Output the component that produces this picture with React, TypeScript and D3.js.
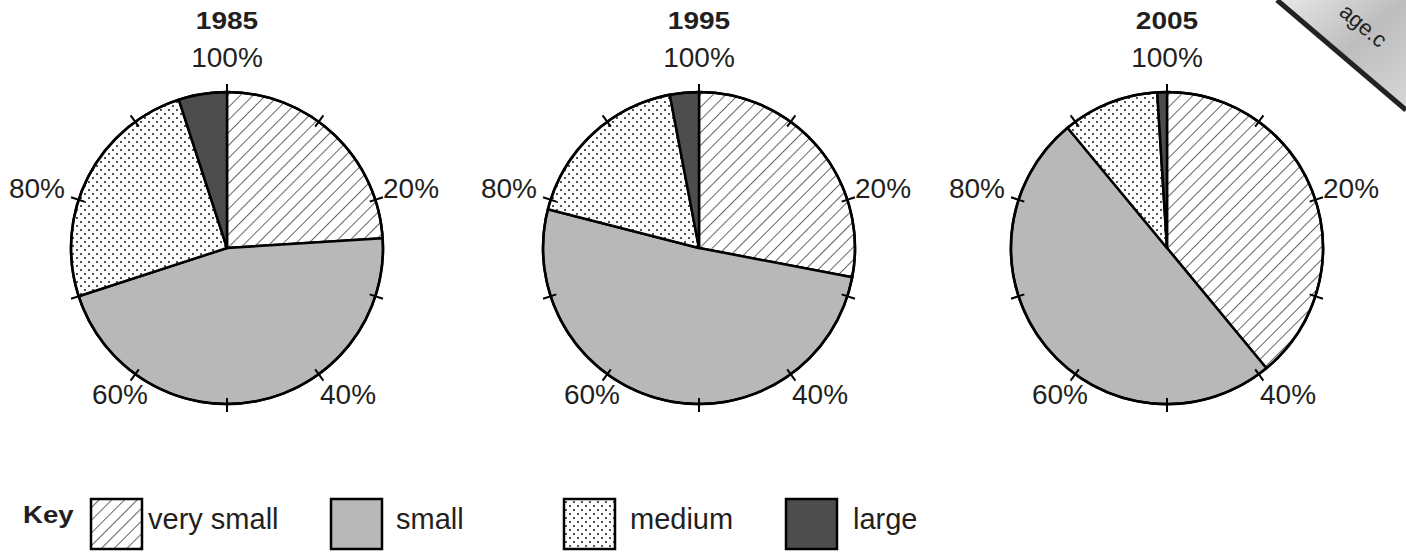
import React from "react";
import * as d3 from "d3";

const years = ["1985", "1995", "2005"];
const categories = ["very small", "small", "medium", "large"];
const values1985 = [24, 46, 25, 5];
const values1995 = [28, 51, 18, 3];
const values2005 = [39, 50, 10, 1];
const seriesValues = [values1985, values1995, values2005];
const tickLabels = ["20%", "40%", "60%", "80%", "100%"];
const tickPercents = [0, 10, 20, 30, 40, 50, 60, 70, 80, 90];

const W = 1406;
const H = 554;
const R = 156;
const CY = 248;
const centersX = [227, 699, 1167];
const TXT = "#231f20";
const fills = ["url(#hatch)", "#b8b8b8", "url(#dots)", "#4d4d4d"];

function StretchText({ x, y, scale, children, size, weight, anchor }: any) {
  return (
    <text
      transform={`translate(${x},${y}) scale(${scale},1)`}
      fontSize={size}
      fontWeight={weight}
      textAnchor={anchor}
      fill={TXT}
      fontFamily="'Liberation Sans', Arial, sans-serif"
    >
      {children}
    </text>
  );
}

export default function App() {
  const pie = d3
    .pie<number>()
    .sort(null)
    .value((d) => d)
    .startAngle(0)
    .endAngle(2 * Math.PI);
  const arc = d3.arc<d3.PieArcDatum<number>>().innerRadius(0).outerRadius(R);
  const angle = d3.scaleLinear().domain([0, 100]).range([0, 2 * Math.PI]);

  const labelPos: Record<string, { dx: number; dy: number; anchor: string }> = {
    "20%": { dx: 156, dy: -50, anchor: "start" },
    "40%": { dx: 93, dy: 156, anchor: "start" },
    "60%": { dx: -79, dy: 156, anchor: "end" },
    "80%": { dx: -162, dy: -50, anchor: "end" },
    "100%": { dx: 0, dy: -181, anchor: "middle" },
  };

  return (
    <svg width={W} height={H} style={{ position: "absolute", left: 0, top: 0, background: "#fff" }}>
      <defs>
        <pattern id="hatch" width="9" height="9" patternUnits="userSpaceOnUse" patternTransform="rotate(45)">
          <rect width="9" height="9" fill="#fff" />
          <line x1="0" y1="0" x2="0" y2="9" stroke="#000" strokeWidth="1.2" />
        </pattern>
        <pattern id="dots" width="8" height="8" patternUnits="userSpaceOnUse">
          <rect width="8" height="8" fill="#fff" />
          <circle cx="2" cy="2" r="0.9" fill="#000" />
          <circle cx="6" cy="6" r="0.9" fill="#000" />
        </pattern>
        <linearGradient id="wm" x1="0" y1="0" x2="1" y2="1">
          <stop offset="0" stopColor="#e8e8e8" />
          <stop offset="0.5" stopColor="#bdbdbd" />
          <stop offset="1" stopColor="#d8d8d8" />
        </linearGradient>
      </defs>

      {seriesValues.map((vals, i) => {
        const cx = centersX[i];
        const arcs = pie(vals);
        return (
          <g key={years[i]}>
            <StretchText x={cx} y={29} scale={1.22} size={23} weight="bold" anchor="middle">
              {years[i]}
            </StretchText>
            <g transform={`translate(${cx},${CY})`}>
              {arcs.map((a, j) => (
                <path key={categories[j]} d={arc(a) || ""} fill={fills[j]} stroke="#000" strokeWidth={2.5} strokeLinejoin="round" />
              ))}
              <circle r={R} fill="none" stroke="#000" strokeWidth={2.5} />
              {tickPercents.map((p) => {
                const t = angle(p);
                const s = Math.sin(t);
                const c = -Math.cos(t);
                return (
                  <line
                    key={p}
                    x1={s * (R - 6)}
                    y1={c * (R - 6)}
                    x2={s * (R + 8)}
                    y2={c * (R + 8)}
                    stroke="#000"
                    strokeWidth={2}
                  />
                );
              })}
              {tickLabels.map((lab) => {
                const lp = labelPos[lab];
                return (
                  <text
                    key={lab}
                    x={lp.dx}
                    y={lp.dy}
                    fontSize={28}
                    textAnchor={lp.anchor as any}
                    fill={TXT}
                    fontFamily="'Liberation Sans', Arial, sans-serif"
                  >
                    {lab}
                  </text>
                );
              })}
            </g>
          </g>
        );
      })}

      {/* Key */}
      <StretchText x={23} y={523} scale={1.2} size={23} weight="bold" anchor="start">
        Key
      </StretchText>
      {categories.map((cat, j) => {
        const bx = [91, 331, 564, 786][j];
        const tx = [148, 396, 630, 853][j];
        return (
          <g key={cat}>
            <rect x={bx} y={499} width={51} height={50} fill={fills[j]} stroke="#000" strokeWidth={2.5} />
            <text x={tx} y={529} fontSize={29} fill={TXT} fontFamily="'Liberation Sans', Arial, sans-serif">
              {cat}
            </text>
          </g>
        );
      })}

      {/* watermark corner */}
      <g>
        <polygon points="1277,0 1406,0 1406,110" fill="url(#wm)" />
        <line x1="1277" y1="0" x2="1406" y2="110" stroke="#222" strokeWidth={5} />
        <text
          transform="translate(1338,14) rotate(40)"
          fontSize={22}
          fill="#222"
          fontFamily="'Liberation Sans', Arial, sans-serif"
        >
          age.c
        </text>
      </g>
    </svg>
  );
}
